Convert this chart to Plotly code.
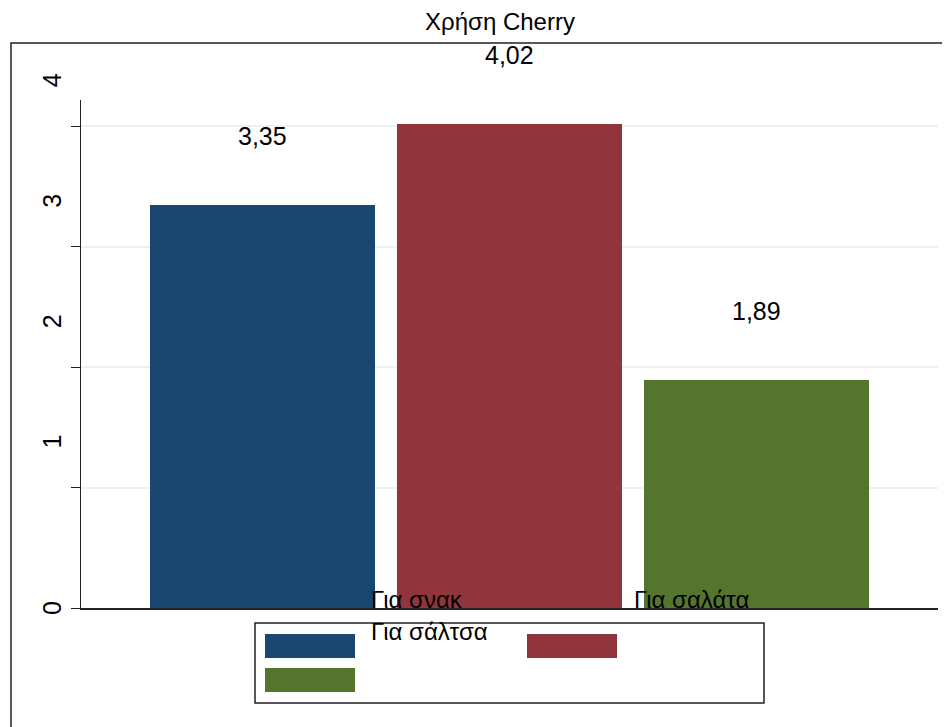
import plotly.graph_objects as go

# ---- data ----
categories = ["Για σνακ", "Για σάλτσα", "Για σαλάτα"]
values = [3.35, 4.02, 1.89]
colors = ["#1a476f", "#90353b", "#55752f"]
title_text = "Χρήση Cherry"
ytick_vals = [0, 1, 2, 3, 4]
ytick_text = ["0", "1", "2", "3", "4"]

# ---- layout helpers (screen pixel -> paper); page body adds an 8px offset ----
OFF = 8
W, H = 950 - OFF, 727 - OFF
L, R, T, B = 81 - OFF, 950 - 938, 100 - OFF, 727 - 608
PW, PH = W - L - R, H - T - B


def px(x):
    return (x - OFF - L) / PW


def py(y):
    return (H - B - (y - OFF)) / PH


FONT = "Liberation Sans, Arial, sans-serif"

fig = go.Figure()
for i, (c, v, col) in enumerate(zip(categories, values, colors)):
    fig.add_trace(go.Bar(x=[i], y=[v], name=c, marker=dict(color=col, line=dict(width=0)),
                         width=0.911, showlegend=False, hoverinfo="skip"))

annotations = []
# value labels above bars
for i, v in enumerate(values):
    annotations.append(dict(x=i, y=v, xref="x", yref="y", text=f"{v:.2f}".replace(".", ","),
                            showarrow=False, yshift=69, yanchor="middle",
                            font=dict(size=25, color="black", family=FONT)))
# y tick labels (rotated, offset as in reference)
for tv, tt in zip(ytick_vals, ytick_text):
    annotations.append(dict(x=px(52), y=tv, xref="paper", yref="y", text=tt, textangle=-90,
                            showarrow=False, yshift=(0 if tv == 0 else 46), xanchor="center",
                            yanchor="middle", font=dict(size=25, color="black", family=FONT)))

# legend labels (misplaced as in reference)
legend_label_pos = [(369, 599), (369, 631), (632, 599)]
for c, (lx, ly) in zip(categories, legend_label_pos):
    annotations.append(dict(x=px(lx), y=py(ly), xref="paper", yref="paper", text=c,
                            showarrow=False, xanchor="left", yanchor="middle",
                            font=dict(size=24, color="black", family=FONT)))

shapes = []
# outer frame
shapes.append(dict(type="rect", xref="paper", yref="paper", x0=px(11), x1=px(970), y0=py(760), y1=py(43),
                   line=dict(color="#222222", width=1.5), fillcolor="rgba(0,0,0,0)", layer="below"))
# legend box
shapes.append(dict(type="rect", xref="paper", yref="paper", x0=px(255), x1=px(764), y0=py(703), y1=py(623),
                   line=dict(color="#222222", width=1.5), fillcolor="white", layer="above"))
swatch_pos = [(265, 634), (527, 634), (265, 668)]
for col, (sx, sy) in zip(colors, swatch_pos):
    shapes.append(dict(type="rect", xref="paper", yref="paper", x0=px(sx), x1=px(sx + 90),
                       y0=py(sy + 24), y1=py(sy), line=dict(width=0), fillcolor=col, layer="above"))

fig.update_layout(
    width=W, height=H,
    margin=dict(l=L, r=R, t=T, b=B),
    paper_bgcolor="white", plot_bgcolor="white",
    font=dict(family=FONT, size=24, color="black"),
    title=dict(text=title_text, xref="container", yref="container", x=(500 - OFF) / W,
               y=1 - (22 - OFF) / H, xanchor="center", yanchor="middle",
               font=dict(size=24, color="black", family=FONT)),
    xaxis=dict(range=[-0.735, 2.735], showticklabels=False, ticks="", showgrid=False, zeroline=False,
               showline=True, linecolor="#222222", linewidth=1.5, fixedrange=True),
    yaxis=dict(range=[0, 4.219], tickvals=ytick_vals, showticklabels=False, ticks="outside", ticklen=9,
               tickcolor="#222222", tickwidth=1, showgrid=True, gridcolor="#eaf2f3", gridwidth=2,
               zeroline=False, showline=True, linecolor="#222222", linewidth=1),
    annotations=annotations,
    shapes=shapes,
    bargap=0,
)

fig.write_html("out.html")
